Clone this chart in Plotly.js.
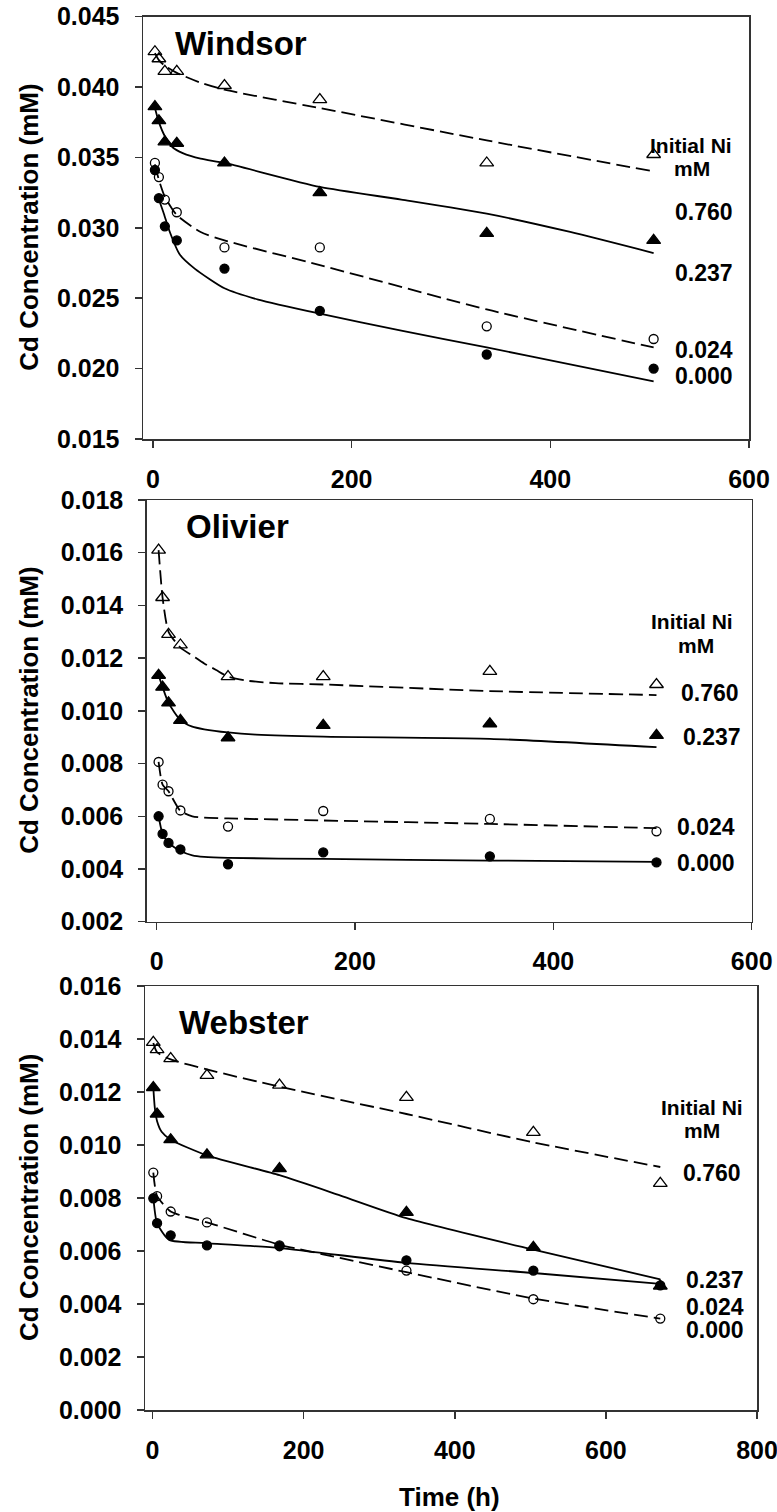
<!DOCTYPE html>
<html>
<head>
<meta charset="utf-8">
<script src="https://cdn.plot.ly/plotly-3.0.1.min.js"></script>
<style>html,body{margin:0;padding:0;background:#fff;}#chart{width:777px;height:1512px;}</style>
</head>
<body>
<div id="chart"></div>
<script>
// ---------------- DATA ----------------
const panelNames = ['Windsor', 'Olivier', 'Webster'];
const niLevels = ['0.760', '0.237', '0.024', '0.000'];
const legendHeader = ['Initial Ni', 'mM'];
const yTitle = 'Cd Concentration (mM)';
const xTitle = 'Time (h)';

// Windsor measured points
const windsorTime = [2, 6, 12, 24, 72, 168, 336, 504];
const windsorNi760 = [0.0425, 0.0420, 0.0411, 0.0411, 0.0401, 0.0391, 0.0346, 0.0352];
const windsorNi237 = [0.0386, 0.0376, 0.0361, 0.0360, 0.0346, 0.0325, 0.0296, 0.0291];
const windsorNi024 = [0.0346, 0.0336, 0.0320, 0.0311, 0.0286, 0.0286, 0.0230, 0.0221];
const windsorNi000 = [0.0341, 0.0321, 0.0301, 0.0291, 0.0271, 0.0241, 0.0210, 0.0200];
// Windsor fitted curves
const windsorFit760T = [2, 6, 12, 24, 48, 72, 168, 336, 504];
const windsorFit760C = [0.0424, 0.0419, 0.0415, 0.0410, 0.0403, 0.0398, 0.0385, 0.0362, 0.0340];
const windsorFit237T = [2, 6, 12, 20, 30, 48, 72, 168, 250, 336, 420, 504];
const windsorFit237C = [0.0385, 0.0375, 0.0365, 0.0357, 0.0353, 0.0349, 0.0346, 0.0329, 0.0320, 0.0310, 0.0297, 0.0282];
const windsorFit024T = [2, 6, 12, 24, 48, 72, 168, 336, 504];
const windsorFit024C = [0.0345, 0.0334, 0.0322, 0.0309, 0.0297, 0.0291, 0.02735, 0.0242, 0.0215];
const windsorFit000T = [5, 11, 17, 27, 42, 72, 106, 168, 250, 336, 420, 504];
const windsorFit000C = [0.0322, 0.0310, 0.0297, 0.0281, 0.0271, 0.0257, 0.0249, 0.0239, 0.0227, 0.0215, 0.0203, 0.0191];

// Olivier measured points
const olivierTime = [2, 6, 12, 24, 72, 168, 336, 504];
const olivierNi760 = [0.0161, 0.0143, 0.0129, 0.0125, 0.0113, 0.0113, 0.0115, 0.0110];
const olivierNi237 = [0.01135, 0.0109, 0.0103, 0.00964, 0.00898, 0.00945, 0.00951, 0.00907];
const olivierNi024 = [0.00806, 0.0072, 0.00695, 0.00622, 0.00561, 0.0062, 0.0059, 0.00543];
const olivierNi000 = [0.0060, 0.00533, 0.00499, 0.00474, 0.00418, 0.00463, 0.00448, 0.00425];
// Olivier fitted curves
const olivierFit760T = [2, 6, 12, 24, 36, 48, 60, 72, 90, 120, 168, 336, 504];
const olivierFit760C = [0.0161, 0.0143, 0.0130, 0.0124, 0.0121, 0.0118, 0.01155, 0.0113, 0.01115, 0.01105, 0.0110, 0.01075, 0.0106];
const olivierFit237T = [2, 6, 12, 24, 36, 48, 72, 100, 168, 336, 504];
const olivierFit237C = [0.01135, 0.0109, 0.0103, 0.00965, 0.0094, 0.0093, 0.00918, 0.0091, 0.00902, 0.00894, 0.00862];
const olivierFit024T = [2, 6, 12, 24, 36, 48, 72, 168, 336, 504];
const olivierFit024C = [0.00806, 0.0072, 0.00695, 0.0062, 0.0060, 0.00595, 0.00592, 0.00584, 0.00571, 0.00555];
const olivierFit000T = [2, 6, 12, 24, 36, 48, 72, 168, 336, 504];
const olivierFit000C = [0.0060, 0.00533, 0.00499, 0.00468, 0.00452, 0.00446, 0.00442, 0.00438, 0.00432, 0.00427];

// Webster measured points
const websterTime = [1, 6, 24, 72, 168, 336, 504, 672];
const websterNi760 = [0.01387, 0.0136, 0.01326, 0.01263, 0.01226, 0.0118, 0.01048, 0.00855];
const websterNi237 = [0.01217, 0.01117, 0.0102, 0.00963, 0.00911, 0.00746, 0.00614, 0.00468];
const websterNi024 = [0.00896, 0.00807, 0.00749, 0.00708, 0.00621, 0.00526, 0.00418, 0.00345];
const websterNi000 = [0.00799, 0.00705, 0.00659, 0.00621, 0.00618, 0.00565, 0.00526, 0.0047];
// Webster fitted curves
const websterFit760T = [1, 6, 24, 72, 168, 336, 504, 672];
const websterFit760C = [0.01385, 0.0135, 0.01323, 0.01285, 0.0122, 0.01117, 0.0101, 0.00917];
const websterFit237T = [1, 3, 6, 12, 24, 72, 168, 248, 336, 504, 672];
const websterFit237C = [0.01217, 0.0114, 0.0109, 0.0105, 0.0102, 0.00961, 0.00886, 0.0081, 0.00724, 0.00605, 0.00493];
const websterFit024T = [1, 6, 24, 36, 72, 168, 248, 336, 504, 672];
const websterFit024C = [0.00896, 0.00807, 0.00749, 0.00736, 0.00708, 0.00624, 0.00574, 0.0052, 0.00421, 0.00345];
const websterFit000T = [1, 6, 22, 70, 168, 336, 504, 672];
const websterFit000C = [0.00803, 0.00705, 0.00642, 0.0063, 0.00611, 0.00555, 0.00517, 0.00476];

// axis tick values
const xTicksShort = [0, 200, 400, 600];
const xTicksLong = [0, 200, 400, 600, 800];

// ---------------- BUILD ----------------
const W = 777, H = 1512;
const px = x => x / W;
const py = y => 1 - y / H;
const FONT = 'Arial, "Liberation Sans", sans-serif';

const panels = [
  { name: panelNames[0], time: windsorTime, pts: [windsorNi760, windsorNi237, windsorNi024, windsorNi000],
    fits: [[windsorFit760T, windsorFit760C], [windsorFit237T, windsorFit237C], [windsorFit024T, windsorFit024C], [windsorFit000T, windsorFit000C]],
    box: { l: 143, r: 749, t: 16.5, b: 439 }, xr: [-10, 600], yr: [0.015, 0.045], dy: 0.005, xt: xTicksShort,
    title: [241, 43], head: [[691, 145], [692, 169]], labs: [[704, 212], [704, 273], [704, 350], [704, 376]] },
  { name: panelNames[1], time: olivierTime, pts: [olivierNi760, olivierNi237, olivierNi024, olivierNi000],
    fits: [[olivierFit760T, olivierFit760C], [olivierFit237T, olivierFit237C], [olivierFit024T, olivierFit024C], [olivierFit000T, olivierFit000C]],
    box: { l: 146.7, r: 751.7, t: 500, b: 921.7 }, xr: [-10, 600], yr: [0.002, 0.018], dy: 0.002, xt: xTicksShort,
    title: [238, 527], head: [[692, 621], [696, 645]], labs: [[710, 693], [712, 737], [706, 827], [706, 863]] },
  { name: panelNames[2], time: websterTime, pts: [websterNi760, websterNi237, websterNi024, websterNi000],
    fits: [[websterFit760T, websterFit760C], [websterFit237T, websterFit237C], [websterFit024T, websterFit024C], [websterFit000T, websterFit000C]],
    box: { l: 145, r: 757, t: 986, b: 1410 }, xr: [-10, 800], yr: [0, 0.016], dy: 0.002, xt: xTicksLong,
    title: [244, 1022], head: [[702, 1107], [702, 1130]], labs: [[712, 1173], [715, 1280], [715, 1307], [715, 1330]] }
];

const markerStyles = [
  { symbol: 'triangle-up-open', size: 12 },
  { symbol: 'triangle-up', size: 12 },
  { symbol: 'circle-open', size: 9 },
  { symbol: 'circle', size: 9 }
];
const lineDashes = ['14px,6px', 'solid', '14px,6px', 'solid'];

const traces = [];
const annotations = [];
const layout = {
  width: W, height: H,
  margin: { l: 0, r: 0, t: 0, b: 0 },
  paper_bgcolor: '#fff', plot_bgcolor: '#fff',
  showlegend: false,
  font: { family: FONT, color: '#000' },
  annotations: annotations
};

panels.forEach((p, i) => {
  const sfx = i === 0 ? '' : String(i + 1);
  const xa = 'x' + sfx, ya = 'y' + sfx;
  layout['xaxis' + sfx] = {
    domain: [px(p.box.l), px(p.box.r)], anchor: ya, range: p.xr,
    tickvals: p.xt, ticktext: p.xt.map(String),
    showgrid: false, zeroline: false, showline: true, mirror: true,
    linecolor: '#333', linewidth: 1.5, ticks: 'outside', ticklen: 7, tickwidth: 1.5, tickcolor: '#333',
    tickfont: { family: FONT, size: 25, color: '#000', weight: 'bold' }, ticklabelstandoff: 10,
    ticklabeloverflow: 'allow',
    fixedrange: true
  };
  layout['yaxis' + sfx] = {
    domain: [py(p.box.b), py(p.box.t)], anchor: xa, range: p.yr, dtick: p.dy, tick0: 0,
    tickformat: '.3f',
    showgrid: false, zeroline: false, showline: true, mirror: true,
    linecolor: '#333', linewidth: 1.5, ticks: 'outside', ticklen: 7, tickwidth: 1.5, tickcolor: '#333',
    tickfont: { family: FONT, size: 25, color: '#000', weight: 'bold' }, ticklabelstandoff: 10,
    ticklabeloverflow: 'allow',
    fixedrange: true
  };
  // fitted curves
  p.fits.forEach((f, k) => {
    traces.push({
      type: 'scatter', mode: 'lines', x: f[0], y: f[1], xaxis: xa, yaxis: ya,
      line: { color: '#000', width: 1.8, dash: lineDashes[k], shape: 'spline', smoothing: 0.6 },
      hoverinfo: 'skip'
    });
  });
  // measured points
  p.pts.forEach((vals, k) => {
    traces.push({
      type: 'scatter', mode: 'markers', x: p.time, y: vals, xaxis: xa, yaxis: ya,
      marker: { symbol: markerStyles[k].symbol, size: markerStyles[k].size, color: '#000', line: { color: '#000', width: 1.3 } },
      name: niLevels[k]
    });
  });
  // panel title
  annotations.push({ xref: 'paper', yref: 'paper', x: px(p.title[0]), y: py(p.title[1]), xanchor: 'center', yanchor: 'middle',
    text: p.name, showarrow: false, font: { family: FONT, size: 33, color: '#000', weight: 'bold' } });
  // legend header
  legendHeader.forEach((h, k) => {
    annotations.push({ xref: 'paper', yref: 'paper', x: px(p.head[k][0]), y: py(p.head[k][1]), xanchor: 'center', yanchor: 'middle',
      text: h, showarrow: false, borderpad: 0, font: { family: FONT, size: 21, color: '#000', weight: 'bold' } });
  });
  niLevels.forEach((lv, k) => {
    annotations.push({ xref: 'paper', yref: 'paper', x: px(p.labs[k][0]), y: py(p.labs[k][1]), xanchor: 'center', yanchor: 'middle',
      text: lv, showarrow: false, borderpad: 0, font: { family: FONT, size: 23, color: '#000', weight: 'bold' } });
  });
  // y-axis title
  annotations.push({ xref: 'paper', yref: 'paper', x: px(29), y: py((p.box.t + p.box.b) / 2), xanchor: 'center', yanchor: 'middle',
    text: yTitle, textangle: -90, showarrow: false, font: { family: FONT, size: 26, color: '#000', weight: 'bold' } });
});

// x-axis title (bottom panel)
annotations.push({ xref: 'paper', yref: 'paper', x: px(449), y: py(1497), xanchor: 'center', yanchor: 'middle',
  text: xTitle, showarrow: false, font: { family: FONT, size: 26, color: '#000', weight: 'bold' } });

Plotly.newPlot('chart', traces, layout, { displayModeBar: false, staticPlot: true });
</script>
</body>
</html>
